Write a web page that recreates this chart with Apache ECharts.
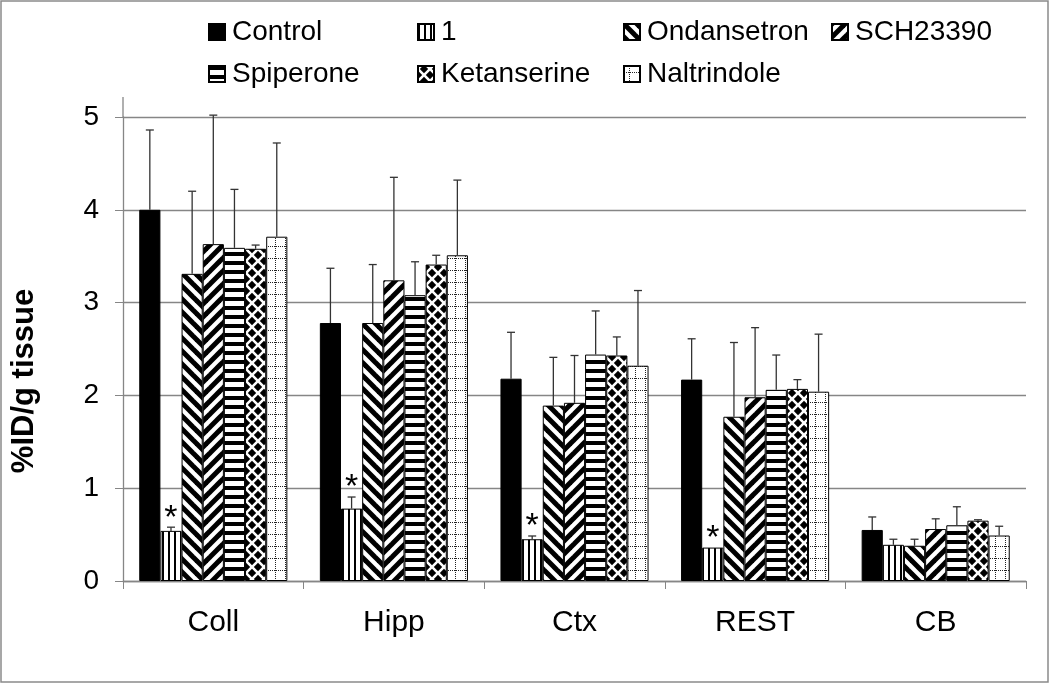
<!DOCTYPE html>
<html>
<head>
<meta charset="utf-8">
<script src="https://cdn.jsdelivr.net/npm/echarts@6/dist/echarts.min.js"></script>
<style>
html,body{margin:0;padding:0;background:#fff;}
#chart{width:1050px;height:684px;}
</style>
</head>
<body>
<div id="chart"></div>
<script>
const categories = ['Coll', 'Hipp', 'Ctx', 'REST', 'CB'];
const seriesNames = ['Control', '1', 'Ondansetron', 'SCH23390', 'Spiperone', 'Ketanserine', 'Naltrindole'];
const yTicks = [0, 1, 2, 3, 4, 5];

const controlMean     = [4.00, 2.78, 2.18, 2.17, 0.55];
const cmpd1Mean       = [0.54, 0.78, 0.45, 0.36, 0.39];
const ondansetronMean = [3.31, 2.78, 1.89, 1.77, 0.38];
const sch23390Mean    = [3.63, 3.24, 1.92, 1.98, 0.56];
const spiperoneMean   = [3.59, 3.08, 2.44, 2.06, 0.60];
const ketanserineMean = [3.58, 3.41, 2.43, 2.07, 0.65];
const naltrindoleMean = [3.71, 3.51, 2.32, 2.04, 0.49];

const controlErr     = [0.86, 0.59, 0.50, 0.44, 0.14];
const cmpd1Err       = [0.04, 0.125, 0.035, 0.00, 0.06];
const ondansetronErr = [0.89, 0.63, 0.52, 0.80, 0.07];
const sch23390Err    = [1.39, 1.11, 0.51, 0.75, 0.11];
const spiperoneErr   = [0.63, 0.36, 0.47, 0.375, 0.20];
const ketanserineErr = [0.04, 0.10, 0.20, 0.10, 0.01];
const naltrindoleErr = [1.01, 0.81, 0.81, 0.62, 0.10];

const cmpd1Stars = ['*', '*', '*', '*', ''];

const means = [controlMean, cmpd1Mean, ondansetronMean, sch23390Mean, spiperoneMean, ketanserineMean, naltrindoleMean];
const errs = [controlErr, cmpd1Err, ondansetronErr, sch23390Err, spiperoneErr, ketanserineErr, naltrindoleErr];
const stars = [null, cmpd1Stars, null, null, null, null, null];

const FONT = "'Liberation Sans', Arial, sans-serif";

function makePattern(w, h, draw) {
  const c = document.createElement('canvas');
  c.width = w; c.height = h;
  const ctx = c.getContext('2d');
  ctx.fillStyle = '#fff';
  ctx.fillRect(0, 0, w, h);
  ctx.fillStyle = '#000';
  ctx.strokeStyle = '#000';
  draw(ctx, w, h);
  return { image: c, repeat: 'repeat' };
}
function diamond(ctx, cx, cy, rx, ry) {
  ctx.beginPath();
  ctx.moveTo(cx, cy - ry); ctx.lineTo(cx + rx, cy); ctx.lineTo(cx, cy + ry); ctx.lineTo(cx - rx, cy);
  ctx.closePath(); ctx.fill();
}
const patterns = [
  '#000',
  makePattern(6, 2, (ctx) => { ctx.fillRect(0, 0, 2, 2); }),
  makePattern(13, 13, (ctx) => {
    ctx.lineWidth = 5;
    [-13, 0, 13].forEach(o => { ctx.beginPath(); ctx.moveTo(o - 2, -2); ctx.lineTo(o + 15, 15); ctx.stroke(); });
  }),
  makePattern(13, 13, (ctx) => {
    ctx.lineWidth = 5;
    [-13, 0, 13].forEach(o => { ctx.beginPath(); ctx.moveTo(o - 2, 15); ctx.lineTo(o + 15, -2); ctx.stroke(); });
  }),
  makePattern(2, 9, (ctx) => { ctx.fillRect(0, 0, 2, 4); }),
  makePattern(12, 12, (ctx) => {
    const r = 4.2;
    diamond(ctx, 6, 3, r, r); diamond(ctx, 6, 15, r, r);
    diamond(ctx, 0, 9, r, r); diamond(ctx, 12, 9, r, r);
    diamond(ctx, 0, -3, r, r); diamond(ctx, 12, -3, r, r);
  }),
  makePattern(10, 12, (ctx) => {
    ctx.fillStyle = '#222';
    for (let y = 0; y < 12; y += 2) ctx.fillRect(5, y, 1, 1);
    for (let x = 0; x < 10; x += 2) ctx.fillRect(x, 6, 1, 1);
  })
];

const CAT_GAP = 0.18;

const barSeries = seriesNames.map((name, i) => ({
  name: name,
  type: 'bar',
  data: means[i],
  barGap: '0%',
  barCategoryGap: (CAT_GAP * 100) + '%',
  itemStyle: { color: patterns[i], borderColor: '#000', borderWidth: 1 },
  emphasis: { disabled: true },
  z: 2
}));

const errSeries = seriesNames.map((name, si) => ({
  type: 'custom',
  name: name + ' err',
  data: means[si].map((v, ci) => [ci, v, errs[si][ci]]),
  encode: { x: 0, y: 1 },
  z: 5,
  silent: true,
  renderItem: function (params, api) {
    const ci = api.value(0), v = api.value(1), e = api.value(2);
    const base = api.coord([ci, v]);
    const top = api.coord([ci, v + e]);
    const catW = api.size([1, 0])[0];
    const bw = catW * (1 - CAT_GAP) / seriesNames.length;
    const x = base[0] + (si - 3) * bw;
    const children = [];
    if (e > 0) {
      children.push({ type: 'line', shape: { x1: x, y1: base[1], x2: x, y2: top[1] }, style: { stroke: '#333', lineWidth: 1.3 } });
      children.push({ type: 'line', shape: { x1: x - 4, y1: top[1], x2: x + 4, y2: top[1] }, style: { stroke: '#333', lineWidth: 1.3 } });
    }
    const s = stars[si] ? stars[si][ci] : '';
    if (s) {
      children.push({ type: 'text', style: { text: s, x: x, y: top[1] + 8, textAlign: 'center', textVerticalAlign: 'bottom', font: '34px ' + FONT, fill: '#000' } });
    }
    return { type: 'group', children: children };
  }
}));

const legendPos = [
  [208, 18], [417, 18], [623, 18], [831, 18],
  [208, 60], [417, 60], [623, 60]
];
const legends = seriesNames.map((n, i) => ({
  data: [{ name: n, icon: 'rect' }],
  left: legendPos[i][0],
  top: legendPos[i][1],
  padding: 0,
  itemWidth: 16,
  itemHeight: 16,
  itemGap: 0,
  selectedMode: false,
  textStyle: { fontSize: 28, color: '#000', fontFamily: FONT, padding: [0, 0, 0, 2] }
}));

const chart = echarts.init(document.getElementById('chart'), null, { renderer: 'canvas' });
chart.setOption({
  animation: false,
  backgroundColor: '#fff',
  textStyle: { fontFamily: FONT },
  legend: legends,
  grid: { left: 123, right: 24, top: 117, bottom: 103, containLabel: false },
  xAxis: {
    type: 'category',
    data: categories,
    axisLine: { lineStyle: { color: '#868686', width: 1.3 } },
    axisTick: { show: true, length: 8, lineStyle: { color: '#868686' } },
    axisLabel: { fontSize: 30, color: '#000', margin: 27, fontFamily: FONT }
  },
  yAxis: {
    type: 'value',
    min: yTicks[0],
    max: yTicks[yTicks.length - 1],
    interval: 1,
    axisLine: { show: true, lineStyle: { color: '#868686', width: 1.3 } },
    axisTick: { show: true, length: 8, lineStyle: { color: '#868686' } },
    axisLabel: { fontSize: 28, color: '#000', margin: 24, fontFamily: FONT },
    splitLine: { show: true, lineStyle: { color: '#868686', width: 1.3 } }
  },
  graphic: [
    { type: 'rect', shape: { x: 1, y: 1, width: 1047, height: 681 }, style: { fill: 'none', stroke: '#8a8a8a', lineWidth: 1.5 }, silent: true },
    { type: 'line', shape: { x1: 123, y1: 97, x2: 123, y2: 117 }, style: { stroke: '#868686', lineWidth: 1.3 }, silent: true },
    { type: 'text', x: 24, y: 381, rotation: Math.PI / 2, style: { text: '%ID/g tissue', font: 'bold 31px ' + FONT, fill: '#000', textAlign: 'center', textVerticalAlign: 'middle' }, silent: true }
  ],
  series: barSeries.concat(errSeries)
});
</script>
</body>
</html>
